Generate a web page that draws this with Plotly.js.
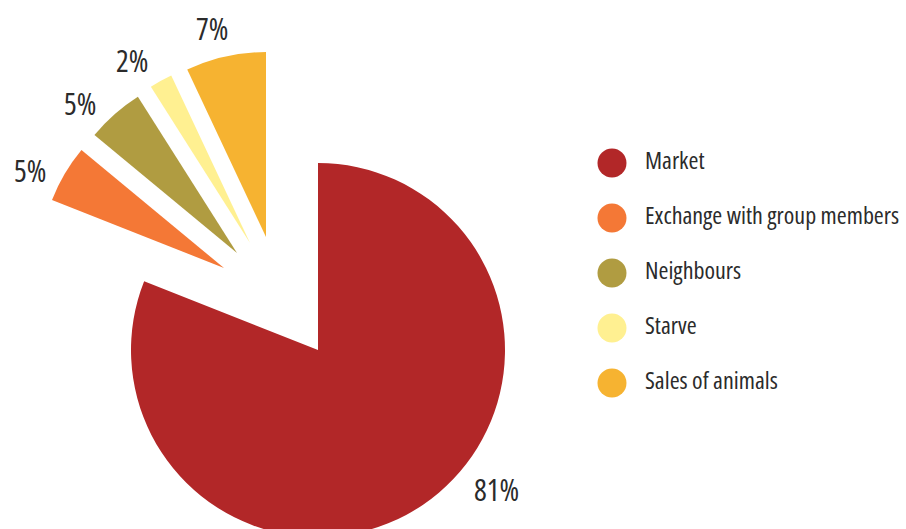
<!DOCTYPE html>
<html><head><meta charset="utf-8">
<script src="https://cdn.plot.ly/plotly-3.0.1.min.js"></script>
<style>html,body{margin:0;padding:0;overflow:hidden;background:#fff}#chart{width:906px;height:560px}
svg text{font-stretch:75% !important;}</style>
</head><body><div id="chart"></div>
<script>
// ---- data ----
const categories = ["Market", "Exchange with group members", "Neighbours", "Starve", "Sales of animals"];
const shares = [81, 5, 5, 2, 7];
const percentLabels = ["81%", "5%", "5%", "2%", "7%"];

// ---- style ----
const colors = ["#B22728", "#F47836", "#B09C41", "#FFF091", "#F6B331"];
const FONT = "Open Sans, DejaVu Sans Condensed, sans-serif";
const TEXT = "#2b2b2b";
const W = 906, H = 560;
const pieCenter = {x: 318, y: 350};
// per-slice explode offset in px (dx, dy) and radius
const explode = [[0, 0], [-94, -82], [-81, -97], [-68, -107], [-52, -113]];
const radii = [187, 185, 185, 185, 185];
const legendX = 612, legendTop = 163, legendStep = 55, legendTextX = 645;
// label placement: distance from slice vertex (px) and extra angle (deg, counter-clockwise)
const labelDist = [226, 217, 217, 217, 215];
const labelAngleShift = [17.8, 4, 5, 4, 2];

const total = shares.reduce((s, v) => s + v, 0);
const traces = [];
const annotations = [];
let cum = 0;
categories.forEach((cat, k) => {
  const cx = pieCenter.x + explode[k][0], cy = pieCenter.y + explode[k][1], r = radii[k];
  traces.push({
    type: "pie",
    values: shares,
    labels: categories,
    sort: false,
    direction: "clockwise",
    rotation: 0,
    marker: {colors: colors.map((c, i) => i === k ? c : "rgba(0,0,0,0)"), line: {width: 0}},
    textinfo: "none",
    domain: {x: [(cx - r) / W, (cx + r) / W], y: [(H - cy - r) / H, (H - cy + r) / H]},
    showlegend: false,
    hoverinfo: "skip"
  });
  // mid angle of slice, clockwise from 12 o'clock
  const mid = (cum + shares[k] / 2) / total * 360 - labelAngleShift[k];
  cum += shares[k];
  const a = mid * Math.PI / 180;
  annotations.push({
    xref: "x", yref: "y",
    x: cx + labelDist[k] * Math.sin(a),
    y: cy - labelDist[k] * Math.cos(a),
    text: percentLabels[k], showarrow: false,
    font: {family: FONT, size: 30, color: TEXT}
  });
});

// custom legend with round markers
traces.push({
  type: "scatter", mode: "markers",
  x: categories.map(() => legendX),
  y: categories.map((_, i) => legendTop + i * legendStep),
  marker: {size: 29, color: colors, line: {width: 0}},
  showlegend: false, hoverinfo: "skip"
});
traces.push({
  type: "scatter", mode: "text",
  x: categories.map(() => legendTextX),
  y: categories.map((_, i) => legendTop + i * legendStep),
  text: categories, textposition: "middle right",
  textfont: {family: FONT, size: 24, color: TEXT},
  showlegend: false, hoverinfo: "skip"
});

const layout = {
  width: W, height: H,
  margin: {l: 0, r: 0, t: 0, b: 0},
  paper_bgcolor: "#fff", plot_bgcolor: "rgba(0,0,0,0)",
  showlegend: false, hovermode: false,
  xaxis: {range: [0, W], visible: false, fixedrange: true},
  yaxis: {range: [H, 0], visible: false, fixedrange: true},
  annotations: annotations
};
Plotly.newPlot("chart", traces, layout, {displayModeBar: false, staticPlot: true});
</script></body></html>
